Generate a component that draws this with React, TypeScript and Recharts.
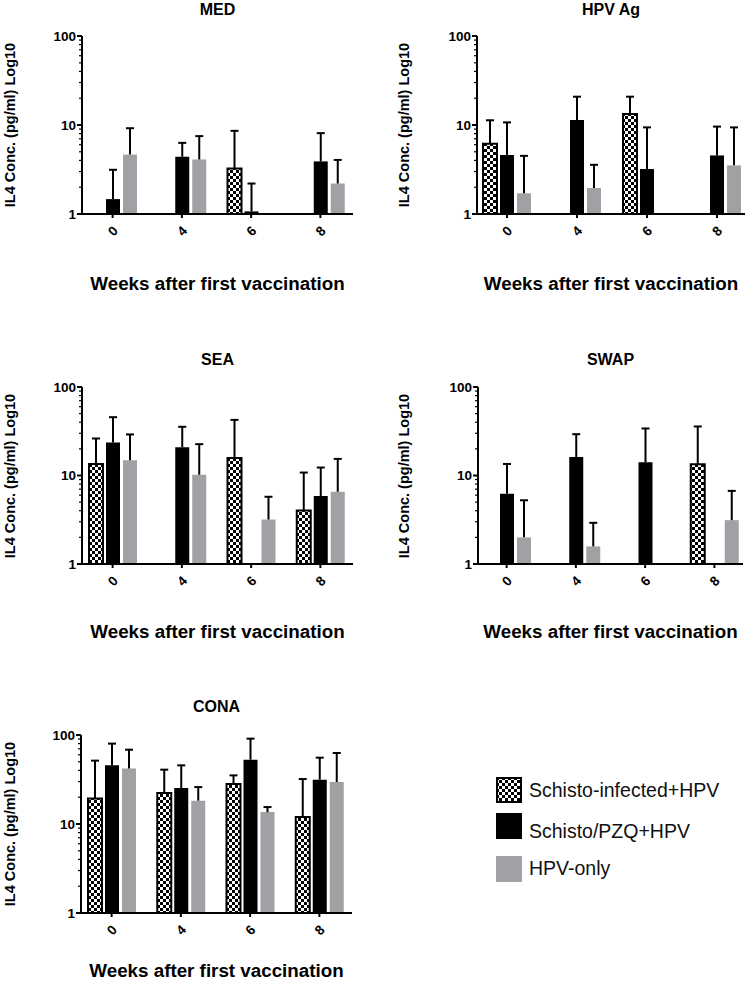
import React from 'react';
import { BarChart, Bar, XAxis, YAxis, ErrorBar } from 'recharts';

// ---------- data ----------
const WEEKS = ['0', '4', '6', '8'];
const Y_TICKS = [1, 2, 3, 4, 5, 6, 7, 8, 9, 10, 20, 30, 40, 50, 60, 70, 80, 90, 100];

const SERIES_NAMES = ['Schisto-infected+HPV', 'Schisto/PZQ+HPV', 'HPV-only'];

// MED
const MED_INFECTED = [null, null, 3.25, null];
const MED_INFECTED_UP = [null, null, 8.6, null];
const MED_PZQ = [1.47, 4.4, 1.07, 3.9];
const MED_PZQ_UP = [3.14, 6.3, 2.2, 8.1];
const MED_HPV = [4.65, 4.1, null, 2.2];
const MED_HPV_UP = [9.2, 7.5, null, 4.05];

// HPV Ag
const HPVAG_INFECTED = [6.15, null, 13.3, null];
const HPVAG_INFECTED_UP = [11.3, null, 20.8, null];
const HPVAG_PZQ = [4.6, 11.4, 3.2, 4.55];
const HPVAG_PZQ_UP = [10.7, 20.8, 9.4, 9.6];
const HPVAG_HPV = [1.71, 1.96, null, 3.52];
const HPVAG_HPV_UP = [4.5, 3.57, null, 9.4];

// SEA
const SEA_INFECTED = [13.5, null, 15.8, 4.03];
const SEA_INFECTED_UP = [26.2, null, 42.5, 10.8];
const SEA_PZQ = [23.6, 20.9, null, 5.85];
const SEA_PZQ_UP = [45.6, 35.5, null, 12.3];
const SEA_HPV = [14.9, 10.2, 3.18, 6.55];
const SEA_HPV_UP = [29.1, 22.6, 5.75, 15.4];

// SWAP
const SWAP_INFECTED = [null, null, null, 13.4];
const SWAP_INFECTED_UP = [null, null, null, 35.8];
const SWAP_PZQ = [6.2, 16.2, 14.1, null];
const SWAP_PZQ_UP = [13.5, 29.3, 34.0, null];
const SWAP_HPV = [2.0, 1.58, null, 3.13];
const SWAP_HPV_UP = [5.25, 2.92, null, 6.7];

// CONA
const CONA_INFECTED = [19.3, 22.3, 28.1, 12.0];
const CONA_INFECTED_UP = [51.5, 40.8, 35.2, 32.0];
const CONA_PZQ = [45.6, 25.4, 52.8, 31.5];
const CONA_PZQ_UP = [80, 45.6, 91, 55.6];
const CONA_HPV = [41.9, 18.3, 13.6, 29.6];
const CONA_HPV_UP = [68.4, 26.0, 15.5, 62.8];

// ---------- helpers ----------
const FONT = '"Liberation Sans", Arial, Helvetica, sans-serif';
const GREY = '#a1a1a5';

function buildRows(
  a: (number | null)[], aUp: (number | null)[],
  b: (number | null)[], bUp: (number | null)[],
  c: (number | null)[], cUp: (number | null)[]
) {
  return WEEKS.map((w, i) => ({
    week: w,
    inf: a[i],
    infErr: a[i] == null || aUp[i] == null ? null : [0, (aUp[i] as number) - (a[i] as number)],
    pzq: b[i],
    pzqErr: b[i] == null || bUp[i] == null ? null : [0, (bUp[i] as number) - (b[i] as number)],
    hpv: c[i],
    hpvErr: c[i] == null || cUp[i] == null ? null : [0, (cUp[i] as number) - (c[i] as number)],
  }));
}

const YTick = (props: any) => {
  const { x, y, payload } = props;
  const v = payload.value;
  const major = v === 1 || v === 10 || v === 100;
  return (
    <g>
      <line x1={x} x2={x - (major ? 5 : 3)} y1={y} y2={y} stroke="#000" strokeWidth={major ? 2 : 1.2} />
      {major && (
        <text x={x - 6} y={y} dy="0.36em" textAnchor="end" fontSize={13.5} fontWeight="bold" fontFamily={FONT} fill="#000">
          {v}
        </text>
      )}
    </g>
  );
};

const XTick = (props: any) => {
  const { x, y, payload } = props;
  return (
    <g>
      <line x1={x} x2={x} y1={y} y2={y + 4} stroke="#000" strokeWidth={2} />
      <text
        transform={`translate(${x},${y + 17}) rotate(-45)`}
        textAnchor="middle"
        dy="0.36em"
        fontSize={13.5}
        fontWeight="bold"
        fontFamily={FONT}
        fill="#000"
      >
        {payload.value}
      </text>
    </g>
  );
};

type PanelProps = {
  title: string;
  rows: any[];
  plotLeft: number;
  plotRight: number;
  plotTop: number;
  plotBottom: number;
  titleY: number;
  xLabelY: number;
  yLabelX: number;
  padL: number;
  padR: number;
};

const YW = 50;
const MT = 10;
const MR = 10;
const XH = 40;

function Panel(p: PanelProps) {
  const plotW = p.plotRight - p.plotLeft;
  const plotH = p.plotBottom - p.plotTop;
  const width = plotW + YW + MR;
  const height = plotH + MT + XH;
  const cx = (p.plotLeft + p.plotRight) / 2;
  const cy = (p.plotTop + p.plotBottom) / 2;
  return (
    <>
      <div
        style={{
          position: 'absolute',
          left: cx - 100,
          width: 200,
          top: p.titleY - 10,
          height: 20,
          lineHeight: '20px',
          textAlign: 'center',
          fontFamily: FONT,
          fontWeight: 'bold',
          fontSize: 16,
        }}
      >
        {p.title}
      </div>
      <div
        style={{
          position: 'absolute',
          left: p.yLabelX - 100,
          top: cy - 10,
          width: 200,
          height: 20,
          lineHeight: '20px',
          textAlign: 'center',
          fontFamily: FONT,
          fontWeight: 'bold',
          fontSize: 14.5,
          transform: 'rotate(-90deg)',
          whiteSpace: 'nowrap',
        }}
      >
        IL4 Conc. (pg/ml) Log10
      </div>
      <div
        style={{
          position: 'absolute',
          left: cx - 160,
          width: 320,
          top: p.xLabelY - 12,
          height: 24,
          lineHeight: '24px',
          textAlign: 'center',
          fontFamily: FONT,
          fontWeight: 'bold',
          fontSize: 18.8,
          whiteSpace: 'nowrap',
        }}
      >
        Weeks after first vaccination
      </div>
      <div style={{ position: 'absolute', left: p.plotLeft - YW, top: p.plotTop - MT }}>
        <BarChart
          width={width}
          height={height}
          data={p.rows}
          margin={{ top: MT, right: MR, left: 0, bottom: 0 }}
          barSize={14}
          barGap={3}
        >
          <XAxis
            dataKey="week"
            height={XH}
            axisLine={{ stroke: '#000', strokeWidth: 2 }}
            tickLine={false}
            tickSize={0}
            tickMargin={0}
            tick={<XTick />}
            interval={0}
            padding={{ left: p.padL, right: p.padR }}
          />
          <YAxis
            width={YW}
            scale="log"
            type="number"
            domain={[1, 100]}
            allowDataOverflow
            ticks={Y_TICKS}
            interval={0}
            axisLine={{ stroke: '#000', strokeWidth: 2 }}
            tickLine={false}
            tickSize={0}
            tickMargin={0}
            tick={<YTick />}
          />
          <Bar dataKey="inf" name={SERIES_NAMES[0]} fill="url(#checker)" stroke="#000" strokeWidth={2} isAnimationActive={false}>
            <ErrorBar dataKey="infErr" width={4} stroke="#000" strokeWidth={2} direction="y" />
          </Bar>
          <Bar dataKey="pzq" name={SERIES_NAMES[1]} fill="#000" isAnimationActive={false}>
            <ErrorBar dataKey="pzqErr" width={4} stroke="#000" strokeWidth={2} direction="y" />
          </Bar>
          <Bar dataKey="hpv" name={SERIES_NAMES[2]} fill={GREY} isAnimationActive={false}>
            <ErrorBar dataKey="hpvErr" width={4} stroke="#000" strokeWidth={2} direction="y" />
          </Bar>
        </BarChart>
      </div>
    </>
  );
}

function LegendRow({ kind, label, top, textTop }: { kind: number; label: string; top: number; textTop: number }) {
  return (
    <>
      <svg style={{ position: 'absolute', left: 496, top }} width={26} height={26}>
        {kind === 0 && <rect x={1} y={1} width={24} height={24} fill="url(#checker)" stroke="#000" strokeWidth={2} />}
        {kind === 1 && <rect x={0} y={0} width={26} height={26} fill="#000" />}
        {kind === 2 && <rect x={0} y={0} width={26} height={26} fill={GREY} />}
      </svg>
      <div
        style={{
          position: 'absolute',
          left: 529,
          top: textTop - 12,
          height: 24,
          lineHeight: '24px',
          fontFamily: FONT,
          fontSize: 19.5,
          whiteSpace: 'nowrap',
          color: '#111',
        }}
      >
        {label}
      </div>
    </>
  );
}

export default function App() {
  const med = buildRows(MED_INFECTED, MED_INFECTED_UP, MED_PZQ, MED_PZQ_UP, MED_HPV, MED_HPV_UP);
  const hpvag = buildRows(HPVAG_INFECTED, HPVAG_INFECTED_UP, HPVAG_PZQ, HPVAG_PZQ_UP, HPVAG_HPV, HPVAG_HPV_UP);
  const sea = buildRows(SEA_INFECTED, SEA_INFECTED_UP, SEA_PZQ, SEA_PZQ_UP, SEA_HPV, SEA_HPV_UP);
  const swap = buildRows(SWAP_INFECTED, SWAP_INFECTED_UP, SWAP_PZQ, SWAP_PZQ_UP, SWAP_HPV, SWAP_HPV_UP);
  const cona = buildRows(CONA_INFECTED, CONA_INFECTED_UP, CONA_PZQ, CONA_PZQ_UP, CONA_HPV, CONA_HPV_UP);

  return (
    <div style={{ position: 'absolute', left: 0, top: 0, width: 747, height: 989, background: '#fff', overflow: 'hidden' }}>
      <style>{`.recharts-errorBar line:nth-of-type(3){display:none}`}</style>
      <svg width={0} height={0} style={{ position: 'absolute' }}>
        <defs>
          <pattern id="checker" patternUnits="userSpaceOnUse" width={6} height={6}>
            <rect x={0} y={0} width={6} height={6} fill="#fff" />
            <rect x={0} y={0} width={3} height={3} fill="#000" />
            <rect x={3} y={3} width={3} height={3} fill="#000" />
          </pattern>
        </defs>
      </svg>

      <Panel title="MED" rows={med} plotLeft={82} plotRight={353} plotTop={36} plotBottom={214}
        titleY={10} xLabelY={284} yLabelX={10} padL={-4} padR={-2} />
      <Panel title="HPV Ag" rows={hpvag} plotLeft={477} plotRight={745} plotTop={36} plotBottom={214}
        titleY={10} xLabelY={284} yLabelX={404} padL={-5} padR={-7} />
      <Panel title="SEA" rows={sea} plotLeft={82} plotRight={353} plotTop={387} plotBottom={564}
        titleY={360} xLabelY={632} yLabelX={10} padL={-4} padR={-2} />
      <Panel title="SWAP" rows={swap} plotLeft={478} plotRight={743} plotTop={387} plotBottom={564}
        titleY={360} xLabelY={632} yLabelX={404} padL={-6} padR={-6} />
      <Panel title="CONA" rows={cona} plotLeft={81} plotRight={352} plotTop={735} plotBottom={913}
        titleY={707} xLabelY={971} yLabelX={10} padL={-4} padR={-2} />

      <LegendRow kind={0} label={SERIES_NAMES[0]} top={777} textTop={790} />
      <LegendRow kind={1} label={SERIES_NAMES[1]} top={813} textTop={831} />
      <LegendRow kind={2} label={SERIES_NAMES[2]} top={856} textTop={868} />
    </div>
  );
}
